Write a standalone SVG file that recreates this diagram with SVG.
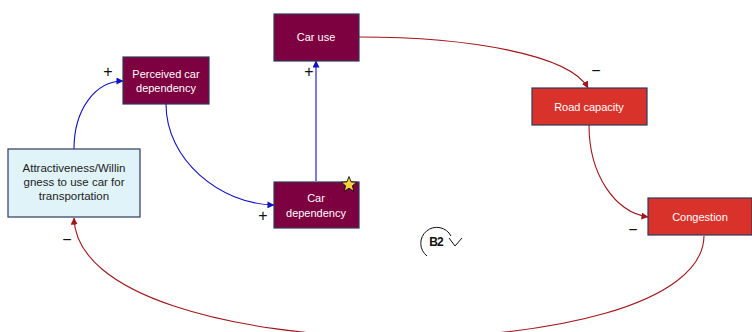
<svg xmlns="http://www.w3.org/2000/svg" width="752" height="332" viewBox="0 0 752 332">
  <style>
    .node rect { stroke: #2E3A5C; stroke-width: 1.2; }
    .maroon rect { fill: #7D0040; }
    .red rect { fill: #D9322A; }
    .pale rect { fill: #DFF3F9; }
    .node text { font-family: "Liberation Sans", Arial, sans-serif; font-size: 11px; text-anchor: middle; }
    .maroon text, .red text { fill: #FFFFFF; }
    .pale text { fill: #222222; font-size: 11.5px; }
    .link { fill: none; stroke-width: 1.1; }
    .pos { stroke: #1010C8; marker-end: url(#arrow-blue); }
    .neg { stroke: #A3151A; marker-end: url(#arrow-red); }
    .sign { font-family: "Liberation Sans", Arial, sans-serif; font-size: 16px; fill: #111111; text-anchor: middle; }
    .loop { font-family: "Liberation Sans", Arial, sans-serif; font-size: 12px; font-weight: bold; fill: #111111; text-anchor: middle; letter-spacing: -0.8px; }
  </style>
  <defs>
    <marker id="arrow-blue" viewBox="0 0 8 8" refX="7.5" refY="4" markerWidth="7" markerHeight="7" markerUnits="userSpaceOnUse" orient="auto">
      <path d="M0,0 L8,4 L0,8 Z" fill="#1010C8"/>
    </marker>
    <marker id="arrow-red" viewBox="0 0 8 8" refX="7.5" refY="4" markerWidth="7" markerHeight="7" markerUnits="userSpaceOnUse" orient="auto">
      <path d="M0,0 L8,4 L0,8 Z" fill="#A3151A"/>
    </marker>
  </defs>

  <rect width="752" height="332" fill="#FFFFFF"/>

  <!-- causal links -->
  <g id="connectors">
    <path class="link pos" d="M74,149 C74,110 95,81 123,81"/>
    <path class="link pos" d="M166,104 C166,160 220,204 274,205"/>
    <path class="link pos" d="M316,181 L316,61"/>
    <path class="link neg" d="M359,37 C470,37 570,55 588,88"/>
    <path class="link neg" d="M589,125 C589,175 615,212 648,217"/>
    <path class="link neg" d="M704,236 C702,374 78,374 74,218"/>
  </g>

  <!-- polarity signs -->
  <g id="signs">
    <text class="sign" x="108" y="77">+</text>
    <text class="sign" x="263" y="221">+</text>
    <text class="sign" x="309" y="77">+</text>
    <text class="sign" x="596" y="76">−</text>
    <text class="sign" x="633" y="235">−</text>
    <text class="sign" x="67" y="245">−</text>
  </g>

  <g id="attractiveness" class="node pale">
    <rect x="8" y="149" width="132" height="68"/>
    <text x="74" y="172">Attractiveness/Willin</text>
    <text x="74" y="186">gness to use car for</text>
    <text x="74" y="200">transportation</text>
  </g>

  <g id="perceived-car-dependency" class="node maroon">
    <rect x="123" y="57" width="86" height="47"/>
    <text x="166" y="78">Perceived car</text>
    <text x="166" y="92">dependency</text>
  </g>

  <g id="car-use" class="node maroon">
    <rect x="274" y="14" width="85" height="47"/>
    <text x="316" y="41">Car use</text>
  </g>

  <g id="car-dependency" class="node maroon">
    <rect x="274" y="182" width="85" height="46"/>
    <text x="316" y="202">Car</text>
    <text x="316" y="217">dependency</text>
    <path d="M349,176.5 L351.1,181.9 L356.8,182.2 L352.4,185.8 L353.8,191.3 L349,188.2 L344.2,191.3 L345.6,185.8 L341.2,182.2 L346.9,181.9 Z" fill="#F7CF3F" stroke="#111111" stroke-width="0.9" stroke-linejoin="round"/>
  </g>

  <g id="road-capacity" class="node red">
    <rect x="532" y="88" width="115" height="37"/>
    <text x="589" y="111">Road capacity</text>
  </g>

  <g id="congestion" class="node red">
    <rect x="648" y="198" width="104" height="37"/>
    <text x="700" y="221">Congestion</text>
  </g>

  <!-- balancing loop marker -->
  <g id="loop-b2">
    <path d="M427,256 A16,16 0 1 1 451,236" fill="none" stroke="#111111" stroke-width="1"/>
    <path d="M449,238 L455,246 L462,238" fill="none" stroke="#111111" stroke-width="1"/>
    <text class="loop" x="436" y="246">B2</text>
  </g>
</svg>
